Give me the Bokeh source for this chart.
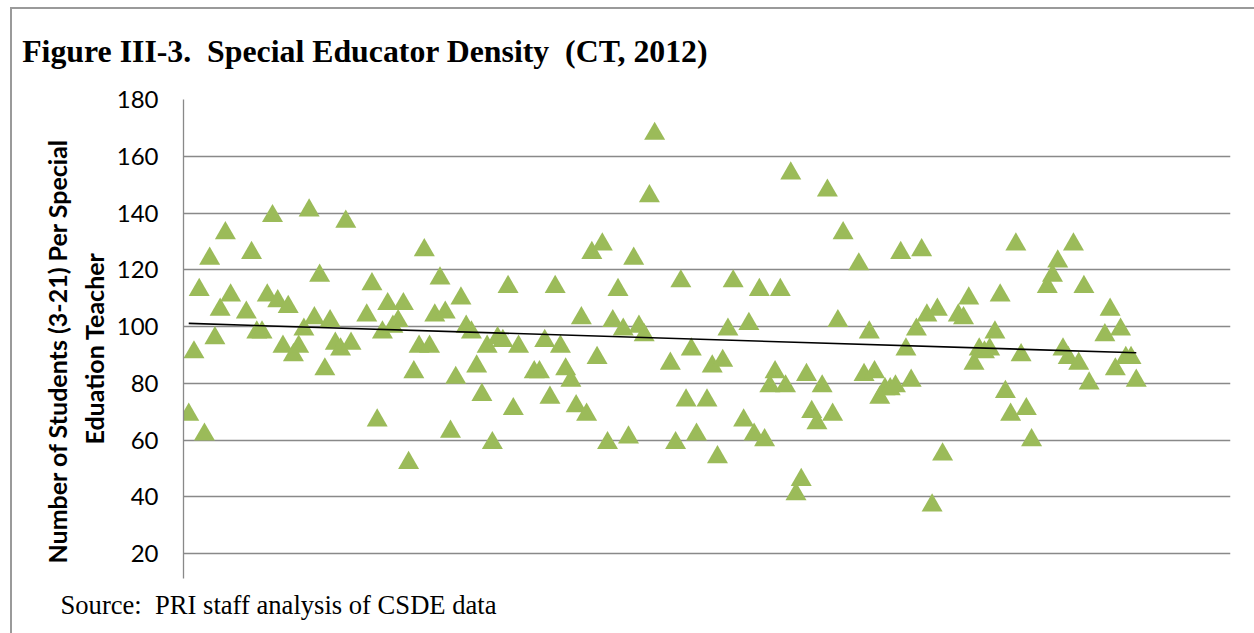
import numpy as np
from bokeh.plotting import figure
from bokeh.models import Range1d, FixedTicker, Title, ColumnDataSource
from bokeh.transform import dodge
from bokeh.embed import file_html
from bokeh.resources import INLINE

# ---- data ----
district = [1, 2, 3, 4, 5, 6, 7, 8, 9, 12, 13, 14, 15, 16, 17, 18, 19, 20, 21, 22,
            23, 24, 25, 26, 27, 28, 29, 30, 31, 32, 35, 36, 37, 38, 39, 40, 41, 42, 43, 44,
            45, 46, 47, 48, 49, 50, 51, 52, 53, 54, 55, 56, 57, 58, 59, 60, 61, 62, 63, 64,
            67, 68, 69, 70, 71, 72, 73, 74, 75, 76, 77, 78, 79, 80, 81, 82, 83, 84, 85, 86,
            87, 88, 89, 90, 93, 94, 95, 96, 97, 98, 100, 101, 102, 103, 104, 105, 107, 108, 109, 110,
            111, 112, 113, 114, 115, 116, 117, 118, 119, 120, 121, 122, 123, 124, 125, 126, 129, 130, 131, 132,
            133, 134, 135, 136, 137, 138, 139, 140, 141, 142, 143, 144, 145, 148, 149, 150, 151, 152, 153, 154,
            155, 156, 157, 158, 159, 160, 161, 162, 165, 166, 167, 168, 169, 170, 171, 172, 173, 176, 177, 178,
            179, 180, 181, 182]
ratio = [70, 92, 114, 63, 125, 97, 107, 134, 112, 106, 127, 99, 99, 112, 140, 110, 94, 108, 91, 94,
         100, 142, 104, 119, 86, 103, 95, 93, 138, 95, 105, 116, 68, 99, 109, 101, 103, 109, 53, 85,
         94, 128, 94, 105, 118, 106, 64, 83, 111, 101, 99, 87, 77, 94, 60, 97, 96, 115, 72, 94,
         85, 85, 96, 76, 115, 94, 86, 82, 73, 104, 70, 127, 90, 130, 60, 103, 114, 100, 62, 125,
         101, 98, 147, 169, 88, 60, 117, 75, 93, 63, 75, 87, 55, 89, 100, 117, 68, 102, 63, 114,
         61, 80, 85, 114, 80, 155, 42, 47, 84, 71, 67, 80, 149, 70, 103, 134, 123, 84, 99, 85,
         76, 79, 79, 80, 127, 93, 82, 100, 128, 105, 38, 107, 56, 105, 104, 111, 88, 93, 92, 93,
         99, 112, 78, 70, 130, 91, 72, 61, 115, 119, 124, 93, 90, 130, 88, 115, 81, 98, 107, 86,
         100, 90, 90, 82]
y_ticks = [20, 40, 60, 80, 100, 120, 140, 160, 180]

title_text = "Figure III-3.\u00a0 Special Educator Density\u00a0 (CT, 2012)"
ytitle_line1 = "Number of Students (3-21) Per Special"
ytitle_line2 = "Eduation Teacher"
source_text = "Source:\u00a0 PRI staff analysis of CSDE data"

GREEN = "#9BBB59"
GRID = "#898989"
FRAME = "#9a9a9a"

W, H = 1254, 633
p = figure(width=W, height=H, output_backend="svg", toolbar_location=None,
           x_range=Range1d(0, 200), y_range=Range1d(11.2, 180),
           min_border_left=183, min_border_right=24, min_border_top=99,
           min_border_bottom=55)
# outer frame of the figure box (left and top edges)
p.styles = {
    "background-image": f"linear-gradient({FRAME}, {FRAME}), linear-gradient({FRAME}, {FRAME})",
    "background-size": "2px 100%, 100% 2px",
    "background-position": "10px 7px, 10px 7px",
    "background-repeat": "no-repeat",
}
p.outline_line_color = None
p.background_fill_color = "white"
p.border_fill_color = None

p.xaxis.visible = False
p.xgrid.visible = False
p.ygrid.grid_line_color = GRID
p.ygrid.grid_line_width = 1.3

p.yaxis.ticker = FixedTicker(ticks=y_ticks)
p.yaxis.axis_line_color = GRID
p.yaxis.axis_line_width = 1.3
p.yaxis.major_tick_line_color = None
p.yaxis.minor_tick_line_color = None
p.yaxis.major_tick_out = 0
p.yaxis.major_tick_in = 0
p.yaxis.major_label_standoff = 25
p.yaxis.major_label_text_font = "Lato"
p.yaxis.major_label_text_font_size = "24px"
p.yaxis.major_label_text_color = "#000000"

src = ColumnDataSource(dict(district=district, ratio=ratio))
p.scatter(x="district", y=dodge("ratio", -1.07), source=src, marker="triangle",
          size=21, fill_color=GREEN, line_color=None)

coef = np.polyfit(np.array(district, float), np.array(ratio, float), 1)
tx = [min(district), max(district)]
ty = list(np.polyval(coef, tx))
p.line(tx, ty, line_color="black", line_width=1.6)

p.add_layout(Title(text=title_text, align="left", offset=-161.3, standoff=61,
                   text_font="Liberation Serif", text_font_style="bold",
                   text_font_size="31.8px", text_color="black"), "above")
p.add_layout(Title(text=source_text, align="left", offset=-123, standoff=19,
                   text_font="Liberation Serif", text_font_style="normal",
                   text_font_size="26.6px", text_color="black"), "below")
# y-axis title, two centred lines (inner line first = closest to the axis)
p.add_layout(Title(text=ytitle_line2, align="left", offset=134, standoff=10,
                   text_font="Lato", text_font_style="bold",
                   text_font_size="25px", text_color="black"), "left")
p.add_layout(Title(text=ytitle_line1, align="left", offset=15, standoff=0,
                   text_font="Lato", text_font_style="bold",
                   text_font_size="25px", text_color="black"), "left")

open("out.html", "w").write(file_html(p, INLINE))
